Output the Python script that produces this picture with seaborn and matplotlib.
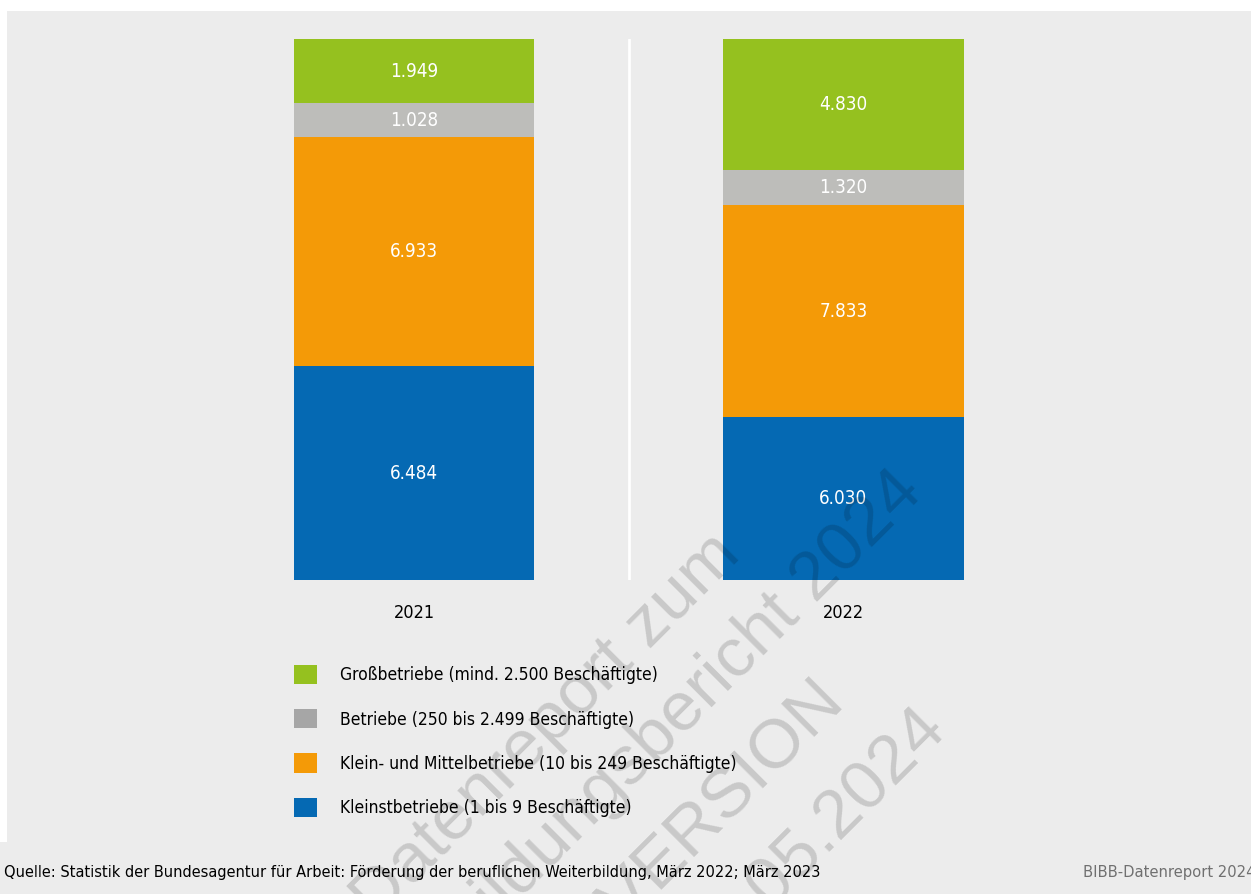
import matplotlib
matplotlib.use("Agg")
import matplotlib.pyplot as plt
from matplotlib.patches import Patch, Rectangle
import seaborn as sns
import pandas as pd
import numpy as np

# ---- data ----
years = ["2021", "2022"]
categories = [
    "Großbetriebe (mind. 2.500 Beschäftigte)",
    "Betriebe (250 bis 2.499 Beschäftigte)",
    "Klein- und Mittelbetriebe (10 bis 249 Beschäftigte)",
    "Kleinstbetriebe (1 bis 9 Beschäftigte)",
]
gross = [1949, 4830]
betriebe = [1028, 1320]
klein_mittel = [6933, 7833]
kleinst = [6484, 6030]

bar_colors = ["#95c11f", "#bdbdba", "#f49a07", "#0569b3"]
legend_colors = ["#95c11f", "#a6a6a6", "#f49a07", "#0569b3"]

source = "Quelle: Statistik der Bundesagentur für Arbeit: Förderung der beruflichen Weiterbildung, März 2022; März 2023"
brand = "BIBB-Datenreport 2024"
watermark_lines = ["Datenreport zum", "Berufsbildungsbericht 2024", "VORAB-VERSION", "28.05.2024"]

# ---- setup ----
sns.set_theme(style="white")
plt.rcParams["font.family"] = ["DejaVu Sans"]
plt.rcParams["font.stretch"] = "condensed"

W, H = 1251, 894
fig = plt.figure(figsize=(W / 100, H / 100), dpi=100, facecolor="white")
BG = "#ececec"
fig.patches.append(Rectangle((7 / W, 0), 1 - 7 / W, (H - 11) / H, transform=fig.transFigure,
                             facecolor=BG, edgecolor="none", zorder=-10))
fig.patches.append(Rectangle((0, 0), 1, (H - 842) / H, transform=fig.transFigure,
                             facecolor=BG, edgecolor="none", zorder=-10))

ax_left, ax_right, ax_top, ax_bottom = 199.25, 1058.25, 39, 580
ax = fig.add_axes([ax_left / W, 1 - ax_bottom / H, (ax_right - ax_left) / W, (ax_bottom - ax_top) / H])
ax.set_facecolor("none")

# percentages
series = [gross, betriebe, klein_mittel, kleinst]
arr = np.array(series, dtype=float)
totals = arr.sum(axis=0)
pct = arr / totals * 100
bottoms = np.zeros_like(pct)
cum = np.zeros(len(years))
for i in [3, 2, 1, 0]:
    bottoms[i] = cum
    cum = cum + pct[i]
tops = bottoms + pct

for i in range(4):  # draw tallest cumulative first, the rest overlap it
    df = pd.DataFrame({"Jahr": years, "Wert": tops[i]})
    sns.barplot(data=df, x="Jahr", y="Wert", color=bar_colors[i], width=0.559,
                saturation=1, ax=ax, edgecolor="none", linewidth=0, zorder=2)

for i in range(4):
    for j in range(len(years)):
        label = f"{int(arr[i, j]):,}".replace(",", ".")
        ax.text(j, bottoms[i, j] + pct[i, j] / 2, label, ha="center", va="center",
                color="white", fontsize=13.5, zorder=5)

ax.axvline(0.5, ymin=0, ymax=1, color="white", lw=2, zorder=1)

ax.set_xlim(-0.5, 1.5)
ax.set_ylim(0, 100)
ax.set_xlabel("")
ax.set_ylabel("")
ax.set_yticks([])
ax.tick_params(axis="x", length=0, pad=17, labelsize=13, labelcolor="black")
for s in ax.spines.values():
    s.set_visible(False)

handles = [Patch(facecolor=c, edgecolor="none") for c in legend_colors]
fs = 12.5
fig.legend(handles, categories, loc="upper left",
           bbox_to_anchor=(294 / W, 1 - 665 / H), frameon=False, fontsize=fs,
           handlelength=1.32, handleheight=1.32, handletextpad=1.32,
           labelspacing=1.43, borderpad=0, borderaxespad=0, labelcolor="black")

fig.text(4 / W, 1 - 872 / H, source, ha="left", va="center", fontsize=11.7, color="black")
fig.text(1083 / W, 1 - 872 / H, brand, ha="left", va="center", fontsize=11.8, color="#707070")

# watermark
ends = [(742, 557), (925, 495), (847, 705), (948, 730)]
for line, (x, y) in zip(watermark_lines, ends):
    fig.text(x / W, 1 - y / H, line, rotation=45, rotation_mode="anchor",
             ha="right", va="baseline", fontsize=50, color="black", alpha=0.15,
             family=["Liberation Sans", "DejaVu Sans"], stretch="normal", zorder=10)

fig.savefig("out.png", dpi=100, facecolor="white")
